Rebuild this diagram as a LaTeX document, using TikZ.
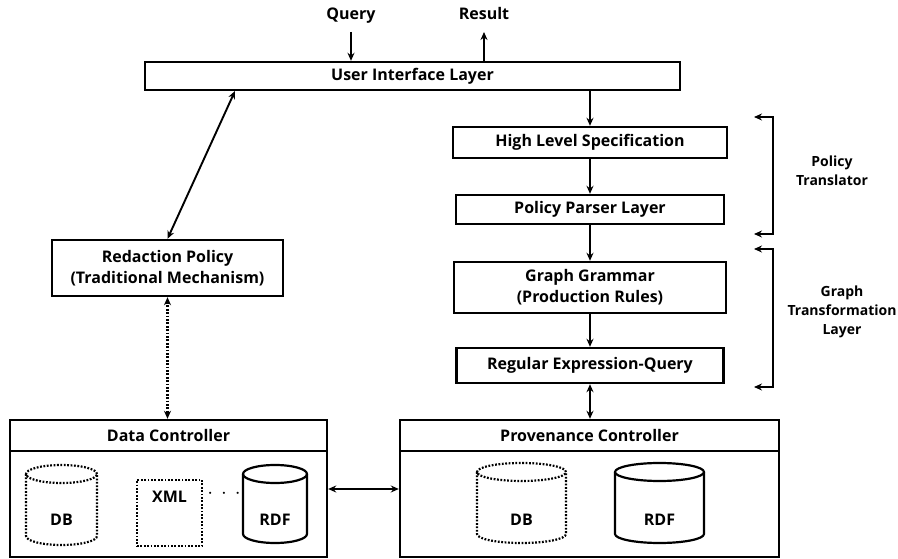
\documentclass[tikz,border=0pt]{standalone}
\usepackage{fontspec}
\setmainfont{Open Sans}
\usetikzlibrary{arrows.meta,calc}
\newcommand{\mycyl}[6]{%
  \draw[#1] (#2-#5,#3+#6) -- (#2-#5,#4-#6) arc[start angle=180,end angle=360,x radius=#5pt,y radius=#6pt] -- (#2+#5,#3+#6);
  \draw[#1] (#2,#3+#6) ellipse[x radius=#5pt,y radius=#6pt];}
\tikzset{
  box/.style={draw,line width=2.4pt,inner sep=0pt,align=center},
  lbl/.style={font=\bfseries\fontsize{16}{21}\selectfont,align=center,inner sep=0pt},
  side/.style={font=\bfseries\fontsize{14}{19}\selectfont,align=center,inner sep=0pt},
  conn/.style={line width=1.9pt,-{Stealth[length=8pt,width=7pt]}},
  dconn/.style={line width=1.9pt,{Stealth[length=8pt,width=7pt]}-{Stealth[length=8pt,width=7pt]}},
  dotln/.style={line width=2.2pt,dash pattern=on 1.8pt off 1.6pt},
  solidln/.style={line width=2.2pt},
}
\begin{document}
\begin{tikzpicture}[x=1pt,y=-1pt]
\useasboundingbox (0,0) rectangle (898,559);
% top layer
\node[box,lbl,minimum width=535pt,minimum height=28pt] (ui) at (412.5,76) {User Interface Layer};
\node[lbl,anchor=base] (q) at (351,20) {Query};
\node[lbl,anchor=base] (r) at (484,20) {Result};
\draw[conn] ([yshift=-12pt]q.base) -- (q.base |- ui.north);
\draw[conn] (r.base |- ui.north) -- ([yshift=-12pt]r.base);
% right column
\node[box,lbl,minimum width=274pt,minimum height=31pt] (hls) at (590,142.5) {High Level Specification};
\node[box,lbl,minimum width=268pt,minimum height=29pt] (ppl) at (590,209.5) {Policy Parser Layer};
\node[box,lbl,minimum width=272pt,minimum height=51pt] (gg) at (590,287.5) {Graph Grammar\\(Production Rules)};
\node[box,lbl,minimum width=267pt,minimum height=35pt] (req) at (590,365.5) {Regular Expression-Query};
\draw[conn] (hls.north |- ui.south) -- (hls.north);
\draw[conn] (hls.south) -- (ppl.north);
\draw[conn] (ppl.south) -- (gg.north);
\draw[conn] (gg.south) -- (req.north);
% left
\node[box,lbl,minimum width=231pt,minimum height=56pt] (rp) at (167.5,268) {Redaction Policy\\(Traditional Mechanism)};
\coordinate (uiL) at (235,91);
\draw[dconn] (rp.north) -- (uiL);
% controllers
\node[box,lbl,minimum width=317pt,minimum height=31pt] (dch) at (168.5,435.5) {Data Controller};
\node[box,minimum width=317pt,minimum height=106pt] (dcb) at (168.5,504) {};
\node[box,lbl,minimum width=379pt,minimum height=31pt] (pch) at (589.5,435.5) {Provenance Controller};
\node[box,minimum width=379pt,minimum height=106pt] (pcb) at (589.5,504) {};
\draw[dconn,dotln] (rp.south) -- (dch.north -| rp.south);
\draw[dconn] (req.south) -- (pch.north -| req.south);
\draw[dconn] ([yshift=15pt]dcb.east) -- ([yshift=15pt]pcb.west);
% data controller content
\mycyl{dotln}{61.5}{465}{545}{35.5}{9}
\node[lbl] (db1) at (61.5,520) {DB};
\node[draw,dotln,minimum width=65pt,minimum height=66pt,inner sep=0pt] (xmlb) at (169.5,513) {};
\node[lbl] (xml) at (169.5,497) {XML};
\node[lbl,font=\bfseries\fontsize{20}{20}\selectfont] (dots) at (224,494) {$\cdot\,\cdot\,\cdot$};
\mycyl{solidln}{275}{465}{543}{32}{9}
\node[lbl] (rdf1) at (275,520) {RDF};
% provenance content
\mycyl{dotln}{521.5}{463}{543}{44.5}{9}
\node[lbl] (db2) at (521.5,520) {DB};
\mycyl{solidln}{659.5}{463}{543}{44.5}{9}
\node[lbl] (rdf2) at (659.5,520) {RDF};
% brackets
\coordinate (pa) at (754,117);
\coordinate (p1) at (773,117);
\coordinate (p2) at (773,234);
\coordinate (pb) at (754,234);
\draw[dconn] (pa) -- (p1) -- (p2) -- (pb);
\coordinate (ga) at (754,249);
\coordinate (g1) at (773,249);
\coordinate (g2) at (773,387);
\coordinate (gb) at (754,387);
\draw[dconn] (ga) -- (g1) -- (g2) -- (gb);
\node[side] (pt) at (832,171) {Policy\\Translator};
\node[side] (gt) at (842,312) {Graph\\Transformation\\Layer};
\end{tikzpicture}
\end{document}
